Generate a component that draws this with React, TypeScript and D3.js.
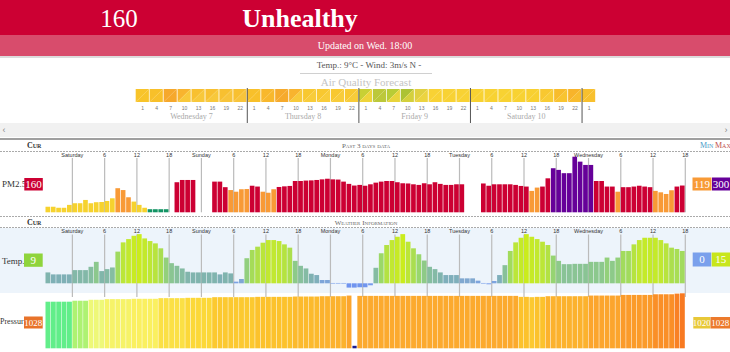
import React from "react";
import * as d3 from "d3";

const W = 730;
const H = 352;

const dayNames = ["Saturday", "Sunday", "Monday", "Tuesday", "Wednesday"];

const pm25: (number | null)[] = [
  57, 57, 52, 52, 66, 74, 74, 90, 74, 79,
  80, 85, 98, 147, 138, 103, 82, 66, 52, 45,
  45, 45, 45, null, 176, 187, 187, 187, null, null,
  null, 179, 179, 152, 138, 130, 142, 143, 159, 155,
  130, 125, 142, 153, 156, 158, 182, 182, 184, 185,
  187, 190, 193, 190, 189, 179, 168, 160, 163, 159,
  166, 174, 179, 182, 182, 176, 171, 170, 166, 163,
  171, 166, 176, 168, 163, 163, 166, 166, null, null,
  null, 170, 159, 166, 166, 166, 166, 163, 158, 155,
  134, 150, 155, 195, 244, 236, 220, 220, 300, 276,
  260, 260, 182, 182, 155, 155, 130, 152, 152, 155,
  159, 155, 152, 134, 127, 119, 137, 155, 160,
];

const temp: number[] = [
  3.3, 2.7, 2.7, 2.7, 2.7, 4.0, 4.0, 4.0, 5.0, 6.5,
  3.7, 4.3, 4.8, 9.6, 12.4, 13.4, 14.4, 14.9, 13.6, 12.8,
  12.1, 10.6, 7.8, 6.1, 5.3, 4.5, 3.5, 3.3, 3.3, 3.3,
  3.3, 3.3, 2.7, 3.3, 3.0, 0.5, 1.3, 7.6, 10.1, 11.1,
  12.3, 13.1, 13.1, 12.8, 11.8, 10.8, 6.8, 5.3, 4.5, 2.9,
  2.5, 1.0, 1.0, 0.1, 0.1, 0.1, -1.3, -1.3, -1.2, -1.2,
  -0.6, 4.7, 9.1, 11.6, 13.1, 14.1, 14.9, 12.6, 10.6, 8.8,
  6.9, 5.0, 4.3, 3.3, 2.5, 2.5, 2.5, 1.5, 1.5, 1.5,
  0.8, 0.1, -0.3, 0.7, 2.5, 5.5, 9.8, 12.4, 13.8, 14.9,
  14.1, 13.4, 12.6, 11.6, 8.4, 6.8, 5.8, 5.8, 5.9, 5.9,
  5.9, 6.5, 6.5, 6.5, 7.8, 6.8, 7.8, 9.8, 9.8, 11.8,
  13.1, 13.8, 13.8, 13.8, 13.1, 12.1, 10.8, 10.4, 9.8,
];

const pressure: (number | null)[] = [
  1015, 1015, 1015, 1015, 1015, 1016.5, 1016.5, 1016.5, 1018, 1018,
  1018, 1019, 1019, 1019, 1019, 1019, 1019.5, 1019.5, 1019.5, 1019.5,
  1019.5, 1020.5, 1020.5, 1020.5, 1020.5, 1020.5, 1021, 1021, 1021, 1021,
  1021, 1022, 1022, 1022, 1022, 1022, 1022, 1022, 1022, 1022.5,
  1022.5, 1022.5, 1022.5, 1022.5, 1022.5, 1022.5, 1023, 1023, 1023, 1023,
  1023, 1023.5, 1023.5, 1023.5, 1023.5, 1023.5, 1024.5, null, 1024, 1024,
  1024, 1024, 1024, 1024, 1024, 1024, 1024, 1024, 1024, 1024,
  1024, 1024, 1024, 1024, 1024, 1024, 1024, 1024, 1024, 1024,
  1024, 1024, 1024, 1024, 1024, 1024, 1024, 1024, 1022.5, 1022.5,
  1022, 1022.5, 1022.5, 1023.5, 1023.5, 1023.5, 1023.5, 1023.5, 1023.5, 1023.5,
  1023.5, 1024.5, 1024.5, 1024.5, 1024.5, 1024.5, 1024.5, 1025.5, 1025.5, 1025.5,
  1025.5, 1025.5, 1025.5, 1026.5, 1026.5, 1026.5, 1026.5, 1027.5, 1028,
];

const forecastDays = ["Wednesday 7", "Thursday 8", "Friday 9", "Saturday 10"];
const forecastHours = ["1", "4", "7", "10", "13", "16", "19", "22"];
const forecastUpper = [
  "#f8c42a", "#f8c02a", "#f6a82c", "#f8b42e", "#f8c030", "#f8c030", "#f8c030", "#f8c030",
  "#f8c02a", "#f8b82c", "#f6aa2c", "#f8b42e", "#f8c830", "#f8c830", "#f8c830", "#f8c830",
  "#c8d034", "#bcc83a", "#b8cc36", "#acc234", "#e0d040", "#f8d234", "#f8d234", "#f8d234",
  "#f8d232", "#f8d232", "#f8d232", "#f8d232", "#f8d030", "#f8c830", "#f8bc2c", "#f8b42a",
  "#f8c02e",
];
const forecastLower = [
  "#f8c42a", "#f8c02a", "#f6a82c", "#f8c83a", "#f8c83a", "#f8c83a", "#f8c43a", "#f8c43a",
  "#f8c02a", "#f8b82c", "#f6aa2c", "#f8ca3a", "#f8cc3a", "#f8cc3a", "#f8cc3a", "#f8cc3a",
  "#eed43a", "#bcc83a", "#e8d43c", "#d4d03c", "#ecd440", "#f8d234", "#f8d234", "#f8d234",
  "#f8d232", "#f8d232", "#f8d232", "#f8d232", "#f8d030", "#f8cc34", "#f8c430", "#f8bc2e",
  "#f8c02e",
];

const pmCurrent = 160;
const pmMin = 119;
const pmMax = 300;
const tempCurrent = 9;
const tempMin = 0;
const tempMax = 15;
const presCurrent = 1028;
const presMin = 1020;
const presMax = 1028;

const SERIF = "'Liberation Serif', 'DejaVu Serif', serif";
const SANS = "'Liberation Sans', Arial, sans-serif";

function aqiColor(v: number) {
  if (v <= 50) return "#139464";
  if (v <= 100) return "#f6d22e";
  if (v <= 150) return "#f89a36";
  if (v <= 200) return "#cc0033";
  if (v <= 300) return "#660099";
  return "#7e0023";
}

const tempColor = d3
  .scaleLinear<string>()
  .domain([-2, 0, 1.5, 3, 5, 7, 9, 11, 13, 15])
  .range(["#6a8ef0", "#7aa0ec", "#80a8d0", "#7fb2b0", "#86bea0", "#8ecb86", "#9ad86a", "#aee04a", "#c0e832", "#cbec1c"])
  .clamp(true);

const presColor = d3
  .scaleLinear<string>()
  .domain([1015, 1016.5, 1018, 1019.5, 1021, 1022.5, 1024, 1026, 1028])
  .range(["#62ee8a", "#aef272", "#eef878", "#faf060", "#fcd838", "#fcc22c", "#fcaa2e", "#fa9628", "#f87a22"])
  .clamp(true);

export default function App() {
  const n = pm25.length;
  const x = d3.scaleLinear().domain([0, n]).range([45.5, 685.3]);
  const step = x(1) - x(0);
  const yPM = d3.scaleLinear().domain([30, 300]).range([212.3, 156.7]);
  const yT = d3.scaleLinear().domain([0, 15]).range([283.3, 233.8]);
  const yP = d3.scaleLinear().domain([1015, 1028]).range([301.7, 293.3]);
  const pBase = 348.3;

  const tickIdx = d3.range(5, n + 1, 6);
  const tickLabel = (k: number) => {
    const h = (k - 5) % 24;
    return h === 0 ? dayNames[(k - 5) / 24] : String(h);
  };

  const nf = forecastUpper.length;
  const fx = d3.scaleLinear().domain([0, nf]).range([135.7, 596.0]);
  const fy0 = 89;
  const fy1 = 102;

  const box = (bx: number, by: number, bw: number, bh: number, fill: string, label: string | number, fs = 11) => (
    <g>
      <rect x={bx} y={by} width={bw} height={bh} fill={fill} />
      <text x={bx + bw / 2} y={by + bh / 2 + fs * 0.36} textAnchor="middle" fill="#fff" fontSize={fs} fontFamily={SERIF}>
        {label}
      </text>
    </g>
  );

  return (
    <svg width={W} height={H} style={{ position: "absolute", left: 0, top: 0, background: "#fff" }}>
      {/* header */}
      <rect x={0} y={0} width={W} height={35} fill="#cc0033" />
      <text x={119} y={27} textAnchor="middle" fill="#fff" fontSize={25} fontFamily={SERIF} fontWeight={300}>
        {pmCurrent}
      </text>
      <text x={300} y={27} textAnchor="middle" fill="#fff" fontSize={26} fontFamily={SERIF} fontWeight="bold">
        Unhealthy
      </text>
      <rect x={0} y={35} width={W} height={21} fill="#d84c6c" />
      <text x={365} y={49} textAnchor="middle" fill="#fff" fontSize={10} fontFamily={SERIF}>
        Updated on Wed. 18:00
      </text>
      <rect x={0} y={56} width={W} height={2} fill="#dcdcdc" />
      <text x={369} y={68} textAnchor="middle" fill="#555" fontSize={9} fontFamily={SERIF}>
        Temp.: 9°C - Wind: 3m/s N -
      </text>
      <line x1={300} x2={432} y1={73.5} y2={73.5} stroke="#d0d0d0" />
      <text x={366} y={86} textAnchor="middle" fill="#c4c4c4" fontSize={11} fontFamily={SERIF}>
        Air Quality Forecast
      </text>

      {/* forecast cells */}
      {forecastUpper.map((c, i) => {
        const x0 = fx(i);
        const x1 = fx(i + 1) - 0.8;
        return (
          <g key={"f" + i}>
            <polygon points={`${x0},${fy0} ${x1},${fy0} ${x0},${fy1}`} fill={c} />
            <polygon points={`${x1},${fy0} ${x1},${fy1} ${x0},${fy1}`} fill={forecastLower[i]} />
            <text x={(fx(i) + fx(i + 1)) / 2} y={110} textAnchor="middle" fill="#777" fontSize={5} fontFamily={SANS}>
              {forecastHours[i % forecastHours.length]}
            </text>
          </g>
        );
      })}
      {forecastDays.map((d, j) => (
        <g key={"fd" + j}>
          <text x={fx(j * 8 + 4)} y={119} textAnchor="middle" fill="#aaa" fontSize={8} fontFamily={SERIF}>
            {d}
          </text>
          <line x1={fx((j + 1) * 8)} x2={fx((j + 1) * 8)} y1={88} y2={123} stroke="#555" strokeWidth={1} />
        </g>
      ))}

      {/* scrollbar */}
      <rect x={0} y={123} width={W} height={14} fill="#f1f1f1" />
      <text x={4} y={133} fill="#888" fontSize={9} fontFamily={SANS} textAnchor="middle">‹</text>
      <text x={726} y={133} fill="#888" fontSize={9} fontFamily={SANS} textAnchor="middle">›</text>
      <rect x={0} y={138} width={W} height={2} fill="#a0a0a0" />

      {/* PM2.5 section header */}
      <text x={27} y={148} fill="#333" fontSize={8} fontFamily={SERIF} style={{ fontVariant: "small-caps" }} fontWeight="bold">
        Cur
      </text>
      <text x={366} y={148} textAnchor="middle" fill="#666" fontSize={7} fontFamily={SERIF} style={{ fontVariant: "small-caps" }}>
        Past 3 days data
      </text>
      <text x={700} y={148} fill="#4a9bc7" fontSize={8} fontFamily={SERIF} style={{ fontVariant: "small-caps" }}>
        Min
      </text>
      <text x={715} y={148} fill="#c0504d" fontSize={8} fontFamily={SERIF} style={{ fontVariant: "small-caps" }}>
        Max
      </text>
      <line x1={0} x2={W} y1={151.5} y2={151.5} stroke="#aaa" strokeDasharray="2,1" />

      {/* PM grid */}
      {tickIdx.map((k) => (
        <g key={"pt" + k}>
          <line x1={x(k)} x2={x(k)} y1={158} y2={212.3} stroke="#bbb" strokeWidth={1.2} />
          <text x={x(k)} y={156.5} textAnchor="middle" fill="#333" fontSize={5.5} fontFamily={SANS}>
            {tickLabel(k)}
          </text>
        </g>
      ))}
      {pm25.map((v, k) =>
        v == null ? null : (
          <rect key={"pm" + k} x={x(k)} y={yPM(v)} width={step - 0.7} height={yPM(30) - yPM(v)} fill={aqiColor(v)} />
        )
      )}
      <text x={2} y={187} fill="#333" fontSize={9} fontFamily={SERIF}>PM2.5</text>
      {box(24.3, 178, 18.5, 12.5, aqiColor(pmCurrent), pmCurrent)}
      {box(692.5, 177.5, 19, 13, aqiColor(pmMin), pmMin)}
      {box(712, 177.5, 18, 13, aqiColor(pmMax), pmMax)}
      <line x1={0} x2={W} y1={216.5} y2={216.5} stroke="#aaa" strokeDasharray="2,1" />

      {/* Weather header */}
      <text x={27} y={225} fill="#333" fontSize={8} fontFamily={SERIF} style={{ fontVariant: "small-caps" }} fontWeight="bold">
        Cur
      </text>
      <text x={366} y={225} textAnchor="middle" fill="#666" fontSize={7} fontFamily={SERIF} style={{ fontVariant: "small-caps" }}>
        Weather Information
      </text>
      <rect x={0} y={228} width={W} height={65} fill="#edf4fb" />
      <line x1={0} x2={W} y1={227.5} y2={227.5} stroke="#aaa" strokeDasharray="2,1" />

      {/* temp grid */}
      {tickIdx.map((k) => (
        <g key={"tt" + k}>
          <line x1={x(k)} x2={x(k)} y1={234.5} y2={297} stroke="#bbb" strokeWidth={1.2} />
          <text x={x(k)} y={233} textAnchor="middle" fill="#333" fontSize={5.5} fontFamily={SANS}>
            {tickLabel(k)}
          </text>
        </g>
      ))}
      {temp.map((v, k) => {
        const y0 = yT(Math.max(0, v));
        const y1 = yT(Math.min(0, v));
        return (
          <rect key={"t" + k} x={x(k)} y={y0} width={step - 0.6} height={Math.max(0.6, y1 - y0)} fill={tempColor(v)} />
        );
      })}
      <text x={2} y={264} fill="#333" fontSize={9} fontFamily={SERIF}>Temp.</text>
      {box(24, 253.5, 18.7, 13.3, "#8fd43c", tempCurrent)}
      {box(692.7, 252.5, 18.5, 14, "#7aa0ec", tempMin)}
      {box(711.7, 252.5, 18.3, 14, "#c8e61c", tempMax)}

      {/* pressure */}
      {pressure.map((v, k) =>
        v == null ? (
          <rect key={"p" + k} x={x(k) + 0.5} y={pBase - 2.5} width={step - 1.2} height={2.5} fill="#1a1a8c" />
        ) : (
          <rect key={"p" + k} x={x(k)} y={yP(v)} width={step - 0.5} height={pBase - yP(v)} fill={presColor(v)} />
        )
      )}
      <text x={0} y={324} fill="#333" fontSize={8} fontFamily={SERIF}>Pressur</text>
      {box(24, 316.5, 18.7, 12, "#e8732a", presCurrent, 9)}
      {box(693.3, 317, 17, 11.5, "#e8c838", presMin, 9)}
      {box(710.5, 317, 19.5, 11.5, "#ec7a2c", presMax, 9)}
    </svg>
  );
}
